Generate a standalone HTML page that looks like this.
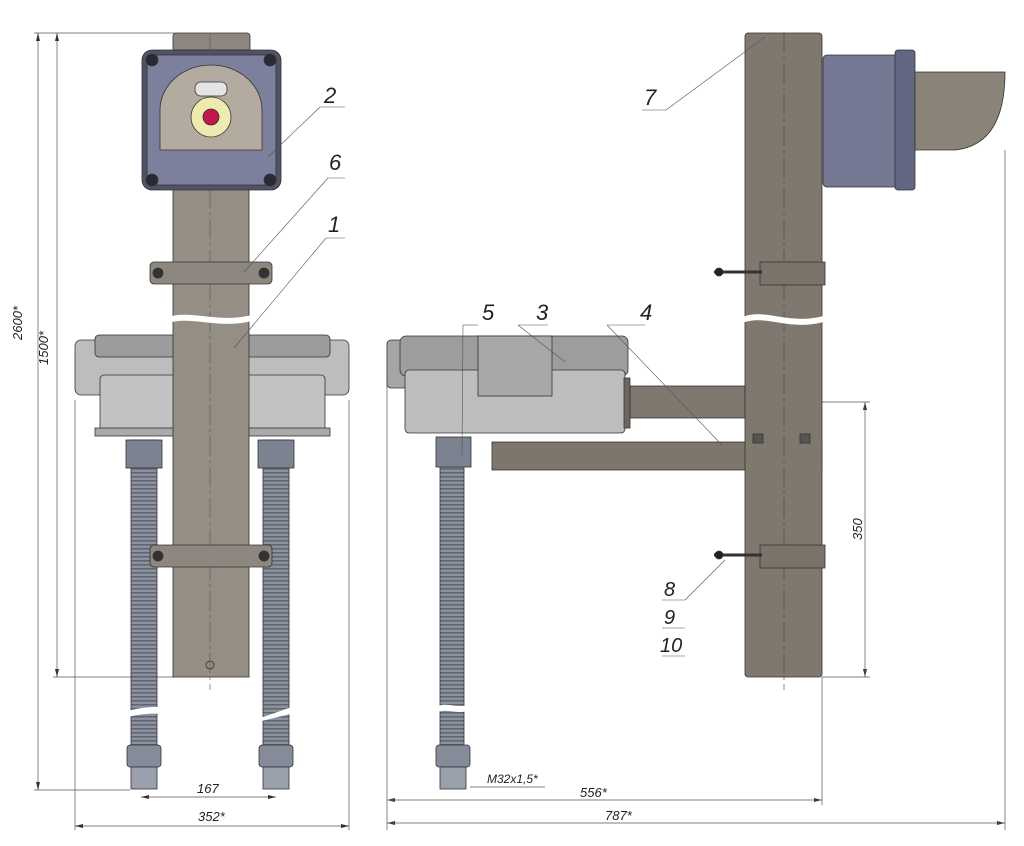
<!DOCTYPE html>
<html><head><meta charset="utf-8"><style>
html,body{margin:0;padding:0;background:#fff}
svg{display:block}
text{font-family:"Liberation Sans",sans-serif;font-style:italic;fill:#222}
</style></head><body>
<svg width="1024" height="846" viewBox="0 0 1024 846" xmlns="http://www.w3.org/2000/svg">
<defs>
<pattern id="thr" width="6" height="4" patternUnits="userSpaceOnUse">
<rect width="6" height="4" fill="#8a909c"/><rect y="0" width="6" height="1.5" fill="#5e6470"/>
</pattern>
</defs>
<g stroke="#333" stroke-width="0.8">
<!-- ===== LEFT VIEW ===== -->
<g stroke="#555" stroke-width="0.7" fill="none">
<line x1="34" y1="33" x2="175" y2="33"/>
<line x1="38" y1="33" x2="38" y2="790"/>
<line x1="53" y1="677" x2="175" y2="677"/>
<line x1="57" y1="33" x2="57" y2="677"/>
<line x1="34" y1="790" x2="130" y2="790"/>
<line x1="75" y1="400" x2="75" y2="830"/>
<line x1="349" y1="400" x2="349" y2="830"/>
<line x1="141" y1="797" x2="276" y2="797"/>
<line x1="75" y1="826" x2="349" y2="826"/>
</g>
<g fill="#333" stroke="none">
<path d="M141 797 l8 -2 v4z"/><path d="M276 797 l-8 -2 v4z"/>
<path d="M75 826 l8 -2 v4z"/><path d="M349 826 l-8 -2 v4z"/>
<path d="M387 800 l8 -2 v4z"/><path d="M822 800 l-8 -2 v4z"/>
<path d="M387 823 l8 -2 v4z"/><path d="M1005 823 l-8 -2 v4z"/>
<path d="M865 402 l-2 8 h4z"/><path d="M865 677 l-2 -8 h4z"/>
<path d="M38 33 l-2 8 h4z"/><path d="M38 790 l-2 -8 h4z"/>
<path d="M57 33 l-2 8 h4z"/><path d="M57 677 l-2 -8 h4z"/>
</g>
<text x="22" y="340" font-size="13" transform="rotate(-90 22 340)" stroke="none">2600*</text>
<text x="48" y="365" font-size="13" transform="rotate(-90 48 365)" stroke="none">1500*</text>
<text x="197" y="793" font-size="13" stroke="none">167</text>
<text x="198" y="821" font-size="13" stroke="none">352*</text>

<rect x="131" y="440" width="26" height="320" fill="url(#thr)"/>
<rect x="263" y="440" width="26" height="320" fill="url(#thr)"/>
<rect x="126" y="440" width="36" height="28" fill="#7d8290"/>
<rect x="258" y="440" width="36" height="28" fill="#7d8290"/>
<rect x="127" y="745" width="34" height="22" rx="3" fill="#858b98"/>
<rect x="131" y="767" width="26" height="22" fill="#9aa0ac"/>
<rect x="259" y="745" width="34" height="22" rx="3" fill="#858b98"/>
<rect x="263" y="767" width="26" height="22" fill="#9aa0ac"/>
<path d="M125 712 C160 700 200 712 230 718 S270 712 300 705 L300 712 C270 718 250 726 230 724 S160 706 125 718Z" fill="#fff" stroke="none"/>

<rect x="75" y="340" width="274" height="55" rx="6" fill="#bdbdbd"/>
<rect x="95" y="335" width="235" height="22" rx="4" fill="#9c9c9c"/>
<rect x="100" y="375" width="225" height="60" rx="4" fill="#c2c2c2"/>
<rect x="95" y="428" width="235" height="8" fill="#aaa"/>

<rect x="173" y="33" width="77" height="20" rx="3" fill="#8d867e"/>
<rect x="173" y="50" width="76" height="627" fill="#958e85"/>
<line x1="210" y1="33" x2="210" y2="690" stroke-dasharray="20 4 3 4" stroke="#555" stroke-width="0.6"/>
<circle cx="210" cy="665" r="4" fill="none"/>
<path d="M165 318 C190 308 220 325 255 314 L255 320 C220 331 190 314 165 324Z" fill="#fff" stroke="none"/>
<rect x="150" y="262" width="122" height="22" rx="4" fill="#8e877f"/>
<circle cx="158" cy="273" r="5" fill="#333"/><circle cx="264" cy="273" r="5" fill="#333"/>
<rect x="150" y="545" width="122" height="22" rx="4" fill="#8e877f"/>
<circle cx="158" cy="556" r="5" fill="#333"/><circle cx="264" cy="556" r="5" fill="#333"/>

<rect x="142" y="50" width="139" height="140" rx="10" fill="#4f5367"/>
<rect x="147" y="55" width="129" height="130" rx="6" fill="#7c809c"/>
<path d="M160 150 L160 110 A51 45 0 0 1 262 110 L262 150Z" fill="#b4aba0"/>
<circle cx="211" cy="117" r="20" fill="#efeab0"/>
<circle cx="211" cy="117" r="8" fill="#c4164a"/>
<rect x="195" y="82" width="32" height="14" rx="6" fill="#e4e4e4"/>
<g fill="#2a2a33"><circle cx="152" cy="60" r="6"/><circle cx="270" cy="60" r="6"/><circle cx="152" cy="180" r="6"/><circle cx="270" cy="180" r="6"/></g>

<g stroke="#555" stroke-width="0.6" fill="none">
<line x1="268" y1="157" x2="320" y2="107"/><line x1="320" y1="107" x2="345" y2="107"/>
<line x1="244" y1="272" x2="328" y2="178"/><line x1="328" y1="178" x2="345" y2="178"/>
<line x1="234" y1="348" x2="326" y2="238"/><line x1="326" y1="238" x2="345" y2="238"/>
</g>
<text x="324" y="103" font-size="22" stroke="none">2</text>
<text x="329" y="170" font-size="22" stroke="none">6</text>
<text x="328" y="232" font-size="22" stroke="none">1</text>

<!-- ===== RIGHT VIEW ===== -->
<g stroke="#555" stroke-width="0.7" fill="none">
<line x1="387" y1="380" x2="387" y2="830"/>
<line x1="822" y1="677" x2="822" y2="805"/>
<line x1="1005" y1="150" x2="1005" y2="830"/>
<line x1="387" y1="800" x2="822" y2="800"/>
<line x1="387" y1="823" x2="1005" y2="823"/>
<line x1="745" y1="402" x2="870" y2="402"/>
<line x1="822" y1="677" x2="870" y2="677"/>
<line x1="865" y1="402" x2="865" y2="677"/>
<line x1="470" y1="787" x2="545" y2="787"/>
</g>
<text x="580" y="797" font-size="13" stroke="none">556*</text>
<text x="605" y="820" font-size="13" stroke="none">787*</text>
<text x="487" y="783" font-size="12" stroke="none">M32x1,5*</text>
<text x="862" y="540" font-size="13" transform="rotate(-90 862 540)" stroke="none">350</text>

<rect x="440" y="460" width="24" height="300" fill="url(#thr)"/>
<rect x="436" y="437" width="35" height="30" fill="#7d8290"/>
<rect x="436" y="745" width="34" height="22" rx="3" fill="#858b98"/>
<rect x="440" y="767" width="26" height="22" fill="#9aa0ac"/>
<path d="M435 708 C445 700 458 710 470 704 L470 710 C458 716 445 706 435 714Z" fill="#fff" stroke="none"/>

<rect x="387" y="340" width="20" height="48" rx="4" fill="#a5a5a5"/>
<rect x="400" y="336" width="228" height="40" rx="6" fill="#9d9d9d"/>
<rect x="405" y="370" width="220" height="63" rx="4" fill="#bdbdbd"/>
<rect x="478" y="336" width="74" height="60" fill="#a8a8a8"/>
<rect x="630" y="386" width="115" height="32" fill="#7f786f"/>
<rect x="624" y="378" width="6" height="50" fill="#6d675f"/>
<rect x="492" y="442" width="330" height="28" fill="#7d766d"/>

<rect x="745" y="33" width="77" height="644" rx="3" fill="#7f786f"/>
<line x1="784" y1="33" x2="784" y2="690" stroke-dasharray="20 4 3 4" stroke="#444" stroke-width="0.6"/>
<path d="M740 318 C765 306 790 328 830 314 L830 320 C790 334 765 312 740 324Z" fill="#fff" stroke="none"/>
<rect x="760" y="262" width="65" height="23" fill="#7a736a"/>
<rect x="760" y="545" width="65" height="23" fill="#7a736a"/>
<line x1="714" y1="272" x2="762" y2="272" stroke-width="3"/>
<line x1="714" y1="555" x2="762" y2="555" stroke-width="3"/>
<circle cx="719" cy="272" r="4" fill="#222"/><circle cx="719" cy="555" r="4" fill="#222"/>
<rect x="753" y="434" width="10" height="9" fill="#555"/><rect x="800" y="434" width="10" height="9" fill="#555"/>

<rect x="823" y="55" width="80" height="132" rx="4" fill="#747892"/>
<rect x="895" y="50" width="20" height="140" rx="3" fill="#626681"/>
<path d="M915 72 L1005 72 Q1005 145 955 150 L915 150Z" fill="#8a8378"/>

<g stroke="#555" stroke-width="0.6" fill="none">
<line x1="765" y1="37" x2="666" y2="110"/><line x1="642" y1="110" x2="666" y2="110"/>
<line x1="462" y1="455" x2="463" y2="325"/><line x1="463" y1="325" x2="478" y2="325"/>
<line x1="565" y1="362" x2="518" y2="325"/><line x1="518" y1="325" x2="548" y2="325"/>
<line x1="722" y1="445" x2="607" y2="325"/><line x1="607" y1="325" x2="645" y2="325"/>
<line x1="725" y1="560" x2="685" y2="600"/><line x1="662" y1="600" x2="685" y2="600"/>
<line x1="662" y1="628" x2="685" y2="628"/><line x1="662" y1="656" x2="685" y2="656"/>
</g>
<text x="644" y="105" font-size="22" stroke="none">7</text>
<text x="482" y="320" font-size="22" stroke="none">5</text>
<text x="536" y="320" font-size="22" stroke="none">3</text>
<text x="640" y="320" font-size="22" stroke="none">4</text>
<text x="664" y="596" font-size="20" stroke="none">8</text>
<text x="664" y="624" font-size="20" stroke="none">9</text>
<text x="660" y="652" font-size="20" stroke="none">10</text>
</g>
</svg>
</body></html>
